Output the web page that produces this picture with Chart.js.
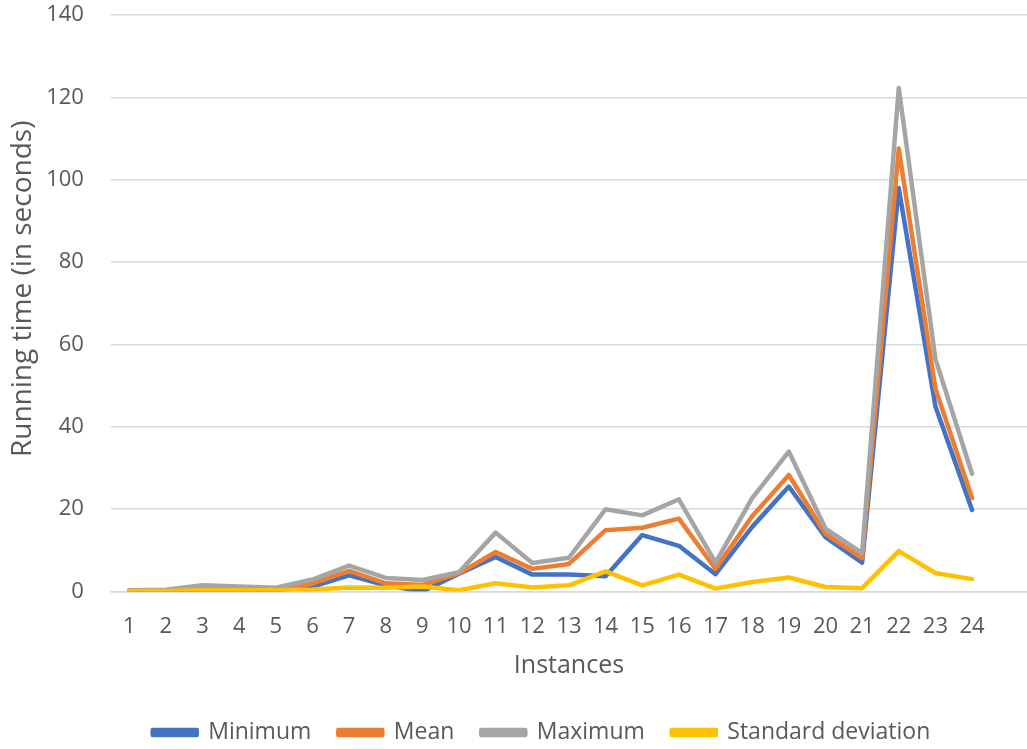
<!DOCTYPE html>
<html>
<head>
<meta charset="utf-8">
<script src="https://cdn.jsdelivr.net/npm/chart.js@4/dist/chart.umd.min.js"></script>
<style>
  html, body { margin: 0; padding: 0; background: #ffffff; }
  #wrap { width: 1027px; height: 749px; position: relative; }
</style>
</head>
<body>
<div id="wrap"><canvas id="chart"></canvas></div>
<script>
// Instance numbers on the x axis
const instances = [1,2,3,4,5,6,7,8,9,10,11,12,13,14,15,16,17,18,19,20,21,22,23,24];

// Running times in seconds per instance
const minimum = [0.1,0.1,0.4,0.4,0.3,1.2,3.9,1.5,0.0,4.3,8.4,4.1,4.1,3.7,13.7,11.1,4.2,15.7,25.5,13.2,7.0,98.0,45.0,19.8];
const mean    = [0.2,0.2,0.6,0.6,0.5,1.9,5.0,2.0,1.6,4.4,9.6,5.5,6.7,14.9,15.5,17.7,5.5,18.3,28.3,14.0,8.1,107.6,49.3,22.7];
const maximum = [0.3,0.4,1.5,1.2,0.9,2.9,6.3,3.3,2.8,4.7,14.3,6.9,8.2,20.0,18.5,22.4,7.0,22.7,34.0,15.3,9.3,122.3,56.5,28.6];
const stdDev  = [0.1,0.1,0.3,0.3,0.3,0.5,1.0,0.9,1.2,0.3,2.0,1.0,1.5,4.9,1.5,4.1,0.7,2.3,3.4,1.1,0.8,9.8,4.5,3.0];

// Y axis tick values
const yTicks = [0,20,40,60,80,100,120,140];

const FONT = "'Open Sans', 'DejaVu Sans', sans-serif";
const TEXT = '#595959';
const GRID = '#d9d9d9';

function pts(values) {
  return values.map((v, i) => ({ x: instances[i], y: v }));
}

function series(label, values, color, order) {
  return {
    label: label,
    data: pts(values),
    borderColor: color,
    backgroundColor: color,
    borderWidth: 4.5,
    borderJoinStyle: 'round',
    borderCapStyle: 'round',
    pointRadius: 0,
    pointHoverRadius: 0,
    tension: 0,
    fill: false,
    order: order
  };
}

// Nudges the bottom legend so it sits centred under the plot area
const legendNudge = {
  id: 'legendNudge',
  afterLayout(chart) {
    const lg = chart.legend;
    if (!lg) return;
    lg.left += 26; lg.right += 26;
    lg.top += 5; lg.bottom += 5;
  }
};

new Chart(document.getElementById('chart'), {
  type: 'line',
  data: {
    datasets: [
      series('Minimum', minimum, '#4472C4', 3),
      series('Mean', mean, '#ED7D31', 2),
      series('Maximum', maximum, '#A5A5A5', 1),
      series('Standard deviation', stdDev, '#FFC000', 0)
    ]
  },
  plugins: [legendNudge],
  options: {
    responsive: true,
    maintainAspectRatio: false,
    animation: false,
    layout: { padding: { left: 4, right: 0, top: 2, bottom: 0 } },
    plugins: {
      tooltip: { enabled: false },
      legend: {
        position: 'bottom',
        labels: {
          font: { family: FONT, size: 23 },
          color: TEXT,
          boxWidth: 44,
          boxHeight: 5,
          padding: 27,
          sort: (a, b) => a.datasetIndex - b.datasetIndex
        }
      }
    },
    scales: {
      x: {
        type: 'linear',
        min: 0.5,
        max: 25.5,
        afterBuildTicks: (axis) => { axis.ticks = instances.map(v => ({ value: v })); },
        grid: { display: true, drawOnChartArea: false, drawTicks: true, tickLength: 20, tickColor: 'rgba(0,0,0,0)' },
        border: { display: true, color: GRID, width: 1.5 },
        ticks: {
          font: { family: FONT, size: 22 },
          color: TEXT,
          padding: 2,
          maxRotation: 0,
          autoSkip: false,
          callback: (v) => String(v)
        },
        title: {
          display: true,
          text: 'Instances',
          font: { family: FONT, size: 25 },
          color: TEXT,
          padding: { top: 8.6, bottom: 8.5 }
        }
      },
      y: {
        min: 0,
        max: 140,
        afterBuildTicks: (axis) => { axis.ticks = yTicks.map(v => ({ value: v })); },
        grid: { color: GRID, lineWidth: 1.5, drawTicks: true, tickLength: 25, tickColor: 'rgba(0,0,0,0)' },
        border: { display: false },
        ticks: {
          font: { family: FONT, size: 22 },
          color: TEXT,
          padding: 2
        },
        title: {
          display: true,
          text: '    Running time (in seconds)',
          font: { family: FONT, size: 28 },
          color: TEXT,
          padding: { top: 2.2, bottom: 4.4 }
        }
      }
    }
  }
});
</script>
</body>
</html>
